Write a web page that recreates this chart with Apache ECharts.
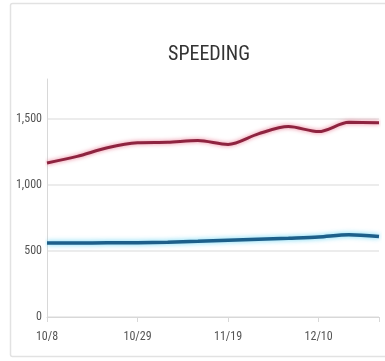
<!DOCTYPE html>
<html>
<head>
<meta charset="utf-8">
<script src="https://cdn.jsdelivr.net/npm/echarts@6/dist/echarts.min.js"></script>
<style>
  html, body { margin: 0; padding: 0; background: #fff; }
  #chart { width: 385px; height: 361px; }
</style>
</head>
<body>
<div id="chart"></div>
<script>
// Weekly speeding counts
const weeks = ['10/8', '10/15', '10/22', '10/29', '11/5', '11/12', '11/19', '11/26', '12/3', '12/10', '12/17', '12/24'];
const upperSeries = [1165, 1215, 1280, 1318, 1322, 1335, 1305, 1385, 1440, 1402, 1472, 1470];
const lowerSeries = [560, 560, 561, 562, 566, 572, 580, 588, 596, 605, 622, 608];
const yTicks = [0, 500, 1000, 1500];

const labelFont = '"Roboto Condensed", Roboto, sans-serif';

const chart = echarts.init(document.getElementById('chart'), null, { renderer: 'canvas' });

chart.setOption({
  animation: false,
  backgroundColor: '#fff',
  title: {
    text: 'SPEEDING',
    left: 204,
    top: 40,
    textAlign: 'center',
    textStyle: { fontFamily: labelFont, fontSize: 20, fontWeight: 'normal', color: '#333' }
  },
  graphic: [{
    type: 'rect',
    shape: { x: 10.5, y: 3.5, width: 390, height: 353, r: 2 },
    style: { fill: 'none', stroke: '#e2e2e2', lineWidth: 1.5 },
    z: -1
  }],
  grid: { left: 47, right: 6, top: 79, bottom: 44 },
  xAxis: {
    type: 'category',
    data: weeks,
    boundaryGap: false,
    axisLine: { lineStyle: { color: '#d8d8d8' } },
    axisTick: {
      length: 5,
      interval: (i) => i % 3 === 0 || i === weeks.length - 1,
      lineStyle: { color: '#d8d8d8' }
    },
    axisLabel: {
      interval: 2,
      margin: 14,
      fontFamily: labelFont, fontSize: 12, color: '#555'
    }
  },
  yAxis: {
    type: 'value',
    min: 0,
    max: 1800,
    interval: 500,
    axisLine: { show: true, lineStyle: { color: '#d8d8d8' } },
    axisTick: { show: false },
    axisLabel: {
      showMaxLabel: false,
      margin: 5,
      fontFamily: labelFont, fontSize: 12, color: '#555',
      formatter: (v) => yTicks.includes(v) ? v.toLocaleString('en-US') : ''
    },
    splitLine: {
      lineStyle: { color: ['#e6e6e6', '#e6e6e6', '#e6e6e6', '#e6e6e6', 'rgba(0,0,0,0)'], width: 1.5 }
    }
  },
  series: [
    {
      type: 'line',
      data: upperSeries,
      smooth: 0.3,
      symbol: 'none',
      lineStyle: {
        color: '#8e2440', width: 3,
        shadowColor: 'rgba(230, 90, 120, 0.8)', shadowBlur: 4
      }
    },
    {
      type: 'line',
      data: lowerSeries,
      smooth: 0.3,
      symbol: 'none',
      lineStyle: {
        color: '#1d5f8a', width: 3.5,
        shadowColor: 'rgba(60, 200, 240, 0.8)', shadowBlur: 5
      }
    }
  ]
});
</script>
</body>
</html>
